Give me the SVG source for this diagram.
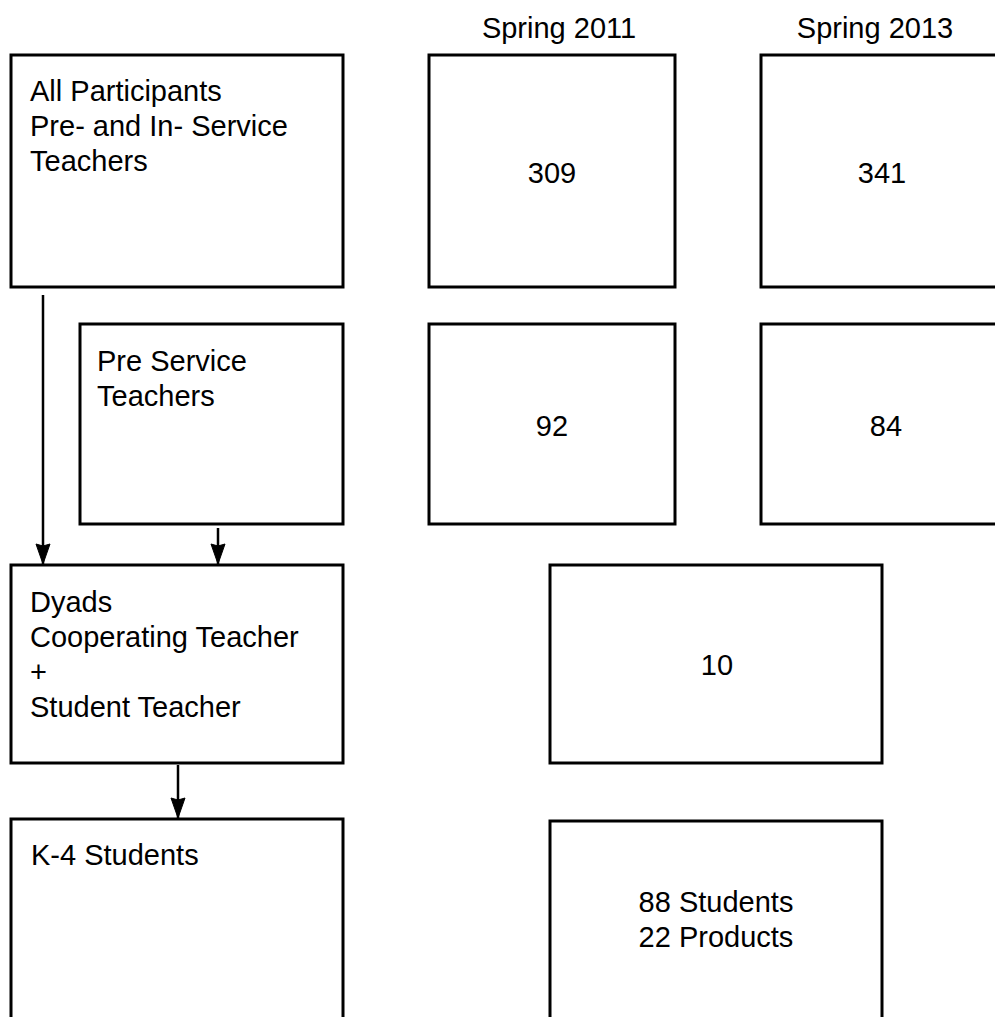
<svg xmlns="http://www.w3.org/2000/svg" width="995" height="1017" viewBox="0 0 995 1017">
<style>
.box{fill:#fff;stroke:#000;stroke-width:3}
.t{font-family:"Liberation Sans",Arial,sans-serif;font-size:29px;fill:#000}
.c{text-anchor:middle}
.edge{stroke:#000;stroke-width:2.5;fill:none}
</style>
<defs>
<marker id="ah" markerUnits="userSpaceOnUse" markerWidth="24" markerHeight="16" refX="21" refY="8" orient="auto" viewBox="0 0 24 16">
<path d="M1,1 L3,8 L1,15 L21,8 Z" fill="#000" stroke="#000" stroke-width="1"/>
</marker>
</defs>
<rect width="995" height="1017" fill="#fff"/>
<g id="headers">
<text class="t c" x="559" y="38">Spring 2011</text>
<text class="t c" x="875" y="38">Spring 2013</text>
</g>
<g id="n-all">
<rect class="box" x="11" y="55" width="332" height="232"/>
<text class="t" x="30" y="101">All Participants</text>
<text class="t" x="30" y="136">Pre- and In- Service</text>
<text class="t" x="30" y="171">Teachers</text>
</g>
<g id="n-309">
<rect class="box" x="429" y="55" width="246" height="232"/>
<text class="t c" x="552" y="183">309</text>
</g>
<g id="n-341">
<rect class="box" x="761" y="55" width="260" height="232"/>
<text class="t c" x="882" y="183">341</text>
</g>
<g id="n-pre">
<rect class="box" x="80" y="324" width="263" height="200"/>
<text class="t" x="97" y="371">Pre Service</text>
<text class="t" x="97" y="406">Teachers</text>
</g>
<g id="n-92">
<rect class="box" x="429" y="324" width="246" height="200"/>
<text class="t c" x="552" y="436">92</text>
</g>
<g id="n-84">
<rect class="box" x="761" y="324" width="260" height="200"/>
<text class="t c" x="886" y="436">84</text>
</g>
<g id="n-dyads">
<rect class="box" x="11" y="565" width="332" height="198"/>
<text class="t" x="30" y="612">Dyads</text>
<text class="t" x="30" y="647">Cooperating Teacher</text>
<text class="t" x="30" y="682">+</text>
<text class="t" x="30" y="717">Student Teacher</text>
</g>
<g id="n-10">
<rect class="box" x="550" y="565" width="332" height="198"/>
<text class="t c" x="717" y="675">10</text>
</g>
<g id="n-k4">
<rect class="box" x="11" y="819" width="332" height="230"/>
<text class="t" x="31" y="865">K-4 Students</text>
</g>
<g id="n-88">
<rect class="box" x="550" y="821" width="332" height="230"/>
<text class="t c" x="716" y="912">88 Students</text>
<text class="t c" x="716" y="947">22 Products</text>
</g>
<g id="connectors">
<line class="edge" x1="43" y1="295" x2="43" y2="564" marker-end="url(#ah)"/>
<line class="edge" x1="218" y1="528" x2="218" y2="564" marker-end="url(#ah)"/>
<line class="edge" x1="178" y1="765" x2="178" y2="818" marker-end="url(#ah)"/>
</g>
</svg>
